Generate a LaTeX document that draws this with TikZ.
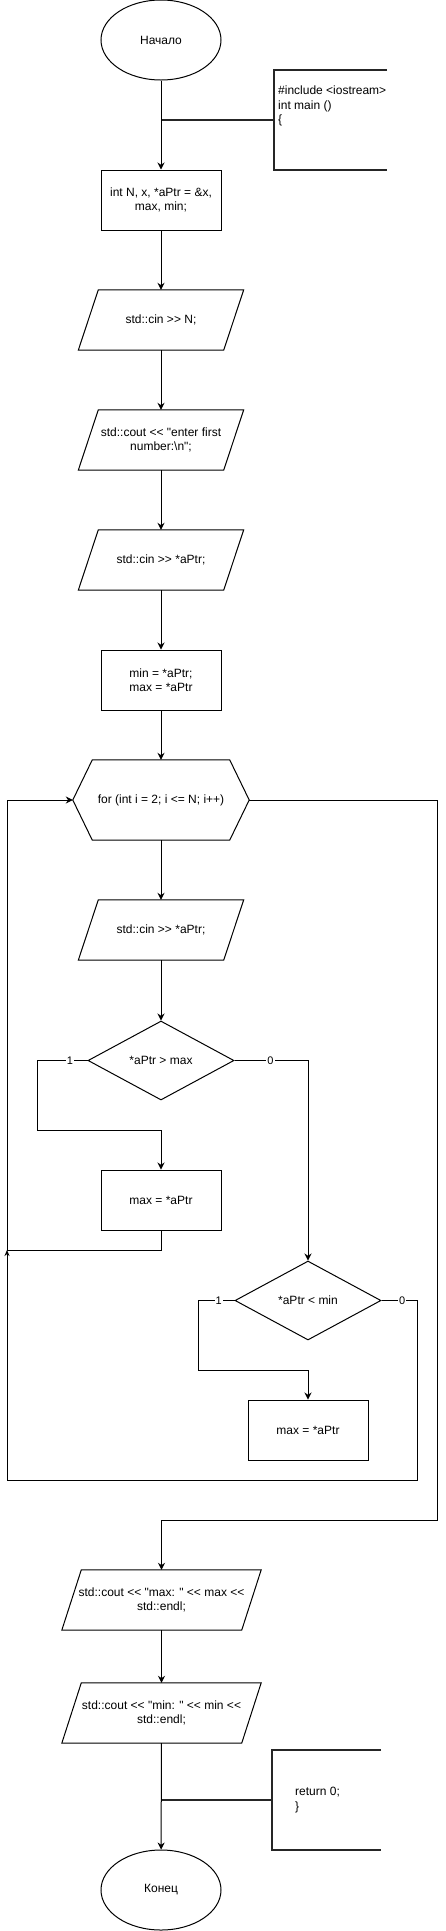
\documentclass[tikz,border=0pt]{standalone}
\usepackage{fontspec}
\newfontfamily\lsans{Liberation Sans}
\usetikzlibrary{shapes.geometric,arrows.meta}
\tikzset{
  every node/.style={font=\lsans\fontsize{12}{14.5}\selectfont},
  shapeline/.style={draw=black, line width=1pt},
  arr/.style={draw=black, line width=1pt, -{Stealth[length=7pt,width=7pt]}},
  arrsmall/.style={draw=black, line width=1pt, -{Stealth[length=6pt,width=5pt]}},
  thk/.style={draw=black!85, line width=2pt},
  plain/.style={draw=black, line width=1pt},
  terminal/.style={shape=ellipse, shapeline, minimum width=120pt, minimum height=80pt, inner sep=0pt},
  procbox/.style={shape=rectangle, shapeline, minimum width=120pt, minimum height=60pt, inner sep=0pt, align=center},
  decision/.style={shape=diamond, shapeline, minimum width=146pt, minimum height=79pt, inner sep=0pt},
  para/.style 2 args={shape=rectangle, minimum width=#1, minimum height=60pt, inner sep=0pt, align=center,
    append after command={\pgfextra{\let\pnode\tikzlastnode
      \draw[shapeline] ([xshift=#2]\pnode.north west) -- (\pnode.north east) -- ([xshift=-#2]\pnode.south east) -- (\pnode.south west) -- cycle;}}},
  hexa/.style={shape=rectangle, minimum width=176pt, minimum height=80pt, inner sep=0pt, align=center,
    append after command={\pgfextra{\let\hnode\tikzlastnode
      \draw[shapeline] (\hnode.west) -- ([xshift=19.5pt]\hnode.north west) -- ([xshift=-19.5pt]\hnode.north east) -- (\hnode.east) -- ([xshift=-19.5pt]\hnode.south east) -- ([xshift=19.5pt]\hnode.south west) -- cycle;}}},
  bracketbox/.style={shape=rectangle, minimum width=#1, minimum height=100pt, inner sep=0pt},
  note/.style={align=left, inner sep=0pt, anchor=west},
  lbl/.style={fill=white, inner sep=1pt, font=\lsans\fontsize{11}{12}\selectfont},
}
\begin{document}
\begin{tikzpicture}[x=1pt,y=-1pt]
\useasboundingbox (0,0) rectangle (446,1931);

% nodes
\node[terminal] (start) at (161,40) {Начало};
\node[bracketbox=113pt] (c1) at (330.5,120) {};
\node[note] (c1t) at (278,106) {\#include <iostream>\\int main ()\\\{};
\node[procbox] (r1) at (161,200) {int N, x, *aPtr = \&x,\\max, min;};
\node[para={165pt}{20pt}] (p1) at (161,320) {std::cin >> N;};
\node[para={165pt}{20pt}] (p2) at (161,440) {std::cout << "enter first\\number:\textbackslash n";};
\node[para={165pt}{20pt}] (p3) at (161,560) {std::cin >> *aPtr;};
\node[procbox] (r2) at (161,680) {min = *aPtr;\\max = *aPtr};
\node[hexa] (hex) at (161,800) {for (int i = 2; i <= N; i++)};
\node[para={165pt}{20pt}] (p4) at (161,930) {std::cin >> *aPtr;};
\node[decision] (d1) at (161,1060.5) {*aPtr > max};
\node[procbox] (r3) at (161,1200) {max = *aPtr};
\node[decision] (d2) at (308,1300.5) {*aPtr < min};
\node[procbox] (r4) at (308,1430) {max = *aPtr};
\node[para={199pt}{19.5pt}] (p5) at (161.5,1600) {std::cout << "max: " << max <<\\std::endl;};
\node[para={199pt}{19.5pt}] (p6) at (161.5,1713) {std::cout << "min: " << min <<\\std::endl;};
\node[bracketbox=109pt] (c2) at (326.5,1800) {};
\node[note] (c2t) at (295,1800) {return 0;\\\}};
\node[terminal] (end) at (161,1890) {Конец};

% helper coordinates
\coordinate (j1) at (37,1130);
\coordinate (j2) at (198,1370);
\coordinate (lx) at (7,1250);
\coordinate (lb) at (7,1480);
\coordinate (rx2) at (417,1480);
\coordinate (ry) at (437,1520);

% comment brackets
\draw[thk] (c1.north east) -- (c1.north west) -- (c1.south west) -- (c1.south east);
\draw[thk] (start.south |- c1.west) -- (c1.west);
\draw[thk] (c2.north east) -- (c2.north west) -- (c2.south west) -- (c2.south east);
\draw[thk] (p6.south |- c2.west) -- (c2.west);

% main chain
\draw[arr] (start) -- (r1);
\draw[arr] (r1) -- (p1);
\draw[arr] (p1) -- (p2);
\draw[arr] (p2) -- (p3);
\draw[arr] (p3) -- (r2);
\draw[arr] (r2) -- (hex);
\draw[arr] (hex) -- (p4);
\draw[arr] (p4) -- (d1);

% decision 1
\draw[arr] (d1.west) -- node[lbl,pos=0.35]{1} (d1.west -| j1) -- (j1) -| (r3.north);
\draw[arr] (d1.east) -- node[lbl,pos=0.49]{0} (d1.east -| d2.north) -- (d2.north);

% decision 2
\draw[arr] (d2.west) -- node[lbl,pos=0.43]{1} (d2.west -| j2) -- (j2) -| (r4.north);
\draw[arrsmall] (d2.east) -- node[lbl,pos=0.58]{0} (d2.east -| rx2) -- (rx2) -- (lb) -- (lx);

% loop back
\draw[arr] (r3.south) |- (lx) -- (lx |- hex.west) -- (hex.west);

% loop exit
\draw[arr] (hex.east) -| (ry) -| (p5.north);

% output chain
\draw[arr] (p5) -- (p6);
\draw[arr] (p6) -- (end);
\end{tikzpicture}
\end{document}
